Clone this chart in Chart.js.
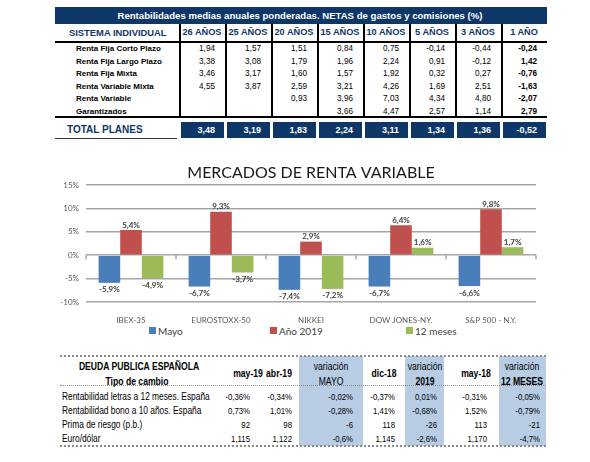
<!DOCTYPE html>
<html>
<head>
<meta charset="utf-8">
<script src="https://cdn.jsdelivr.net/npm/chart.js@4.4.0/dist/chart.umd.min.js"></script>
<style>
  body { margin: 0; width: 590px; height: 462px; background: #fff; position: relative; overflow: hidden;
         font-family: "Liberation Sans", Arial, sans-serif; }
  .t { position: absolute; white-space: nowrap; line-height: 1; }
  .box { position: absolute; }
  #chartBox { position: absolute; left: 0; top: 155px; width: 590px; height: 170px; }
</style>
</head>
<body>
<div id="chartBox"><canvas id="mercados" width="590" height="170"></canvas></div>

<script>
// ---- tabla rentabilidades ----
const planTitle = 'Rentabilidades medias anuales ponderadas. NETAS de gastos y comisiones (%)';
const planColumns = ['26 AÑOS', '25 AÑOS', '20 AÑOS', '15 AÑOS', '10 AÑOS', '5 AÑOS', '3 AÑOS', '1 AÑO'];
const planRows = ['Renta Fija Corto Plazo', 'Renta Fija Largo Plazo', 'Renta Fija Mixta',
                  'Renta Variable Mixta', 'Renta Variable', 'Garantizados'];
const rfCortoPlazo = [1.94, 1.57, 1.51, 0.84, 0.75, -0.14, -0.44, -0.24];
const rfLargoPlazo = [3.38, 3.08, 1.79, 1.96, 2.24, 0.91, -0.12, 1.42];
const rfMixta      = [3.46, 3.17, 1.60, 1.57, 1.92, 0.32, 0.27, -0.76];
const rvMixta      = [4.55, 3.87, 2.59, 3.21, 4.26, 1.69, 2.51, -1.63];
const rentaVariable = [null, null, 0.93, 3.96, 7.03, 4.34, 4.80, -2.07];
const garantizados = [null, null, null, 3.66, 4.47, 2.57, 1.14, 2.79];
const totalPlanes  = [3.48, 3.19, 1.83, 2.24, 3.11, 1.34, 1.36, -0.52];

// ---- grafico mercados ----
const mercados  = ['IBEX-35', 'EUROSTOXX-50', 'NIKKEI', 'DOW JONES-NY.', 'S&P 500 - N.Y.'];
const mayo      = [-5.9, -6.7, -7.4, -6.7, -6.6];
const anio2019  = [5.4, 9.3, 2.9, 6.4, 9.8];
const doceMeses = [-4.9, -3.7, -7.2, 1.6, 1.7];
const yTicks    = [-10, -5, 0, 5, 10, 15];

// ---- tabla deuda ----
const deudaCols = ['may-19', 'abr-19', 'variación|MAYO', 'dic-18', 'variación|2019', 'may-18', 'variación|12 MESES'];
const deudaRows = ['Rentabilidad letras a 12 meses. España', 'Rentabilidad bono a 10 años. España',
                   'Prima de riesgo (p.b.)', 'Euro/dólar'];
const letras12 = ['-0,36%', '-0,34%', '-0,02%', '-0,37%', '0,01%', '-0,31%', '-0,05%'];
const bono10   = ['0,73%', '1,01%', '-0,28%', '1,41%', '-0,68%', '1,52%', '-0,79%'];
const prima    = ['92', '98', '-6', '118', '-26', '113', '-21'];
const euroDolar = ['1,115', '1,122', '-0,6%', '1,145', '-2,6%', '1,170', '-4,7%'];

const NAVY = '#0e3768';
const fmt = v => v.toFixed(2).replace('.', ',');

function text(x, y, s, css, align, sx) {
  const d = document.createElement('div');
  d.className = 't';
  d.textContent = s;
  Object.assign(d.style, css);
  d.style.left = x + 'px';
  d.style.top = y + 'px';
  const tx = align === 'center' ? '-50%' : align === 'right' ? '-100%' : '0';
  d.style.transformOrigin = (align === 'center' ? 'center' : align === 'right' ? 'right' : 'left') + ' center';
  d.style.transform = 'translate(' + tx + ',-50%)' + (sx ? ' scaleX(' + sx + ')' : '');
  document.body.appendChild(d);
  return d;
}
function rect(x, y, w, h, css) {
  const d = document.createElement('div');
  d.className = 'box';
  Object.assign(d.style, { left: x + 'px', top: y + 'px', width: w + 'px', height: h + 'px' }, css);
  document.body.appendChild(d);
  return d;
}

// top table
const colX = 179, colW = 46, tblL = 55, tblR = 547;
rect(tblL, 7, tblR - tblL, 17, { background: NAVY });
text(300, 15.5, planTitle, { color: '#fff', fontWeight: 'bold', fontSize: '9.6px' }, 'center');
text(69, 33, 'SISTEMA INDIVIDUAL', { color: NAVY, fontWeight: 'bold', fontSize: '9.4px' });
planColumns.forEach((c, i) => {
  text(colX + colW * i + colW / 2, 33, c, { color: NAVY, fontWeight: 'bold', fontSize: '9.2px' }, 'center');
});
for (let i = 0; i < planColumns.length; i++) rect(colX + colW * i, 24, 1.5, 93, { background: '#000' });
rect(tblL, 41, tblR - tblL, 2, { background: '#000' });
rect(tblL, 116, tblR - tblL, 1.5, { background: '#000' });

const planData = [rfCortoPlazo, rfLargoPlazo, rfMixta, rvMixta, rentaVariable, garantizados];
planRows.forEach((r, j) => {
  const y = 49 + j * 12.5;
  text(76, y, r, { color: '#000', fontWeight: 'bold', fontSize: '8px' });
  planData[j].forEach((v, i) => {
    if (v === null) return;
    const last = i === planColumns.length - 1;
    text(colX + colW * (i + 1) - 10, y, fmt(v),
      { color: '#000', fontSize: '8.2px', fontWeight: last ? 'bold' : 'normal' }, 'right');
  });
});

text(67, 130, 'TOTAL PLANES', { color: NAVY, fontWeight: 'bold', fontSize: '10px' });
rect(tblL, 137.5, colX - tblL - 2, 1.2, { background: '#333' });
totalPlanes.forEach((v, i) => {
  rect(colX + colW * i + 1.5, 122, colW - 2.5, 16, { background: NAVY });
  text(colX + colW * (i + 1) - 10, 130, fmt(v), { color: '#fff', fontWeight: 'bold', fontSize: '9px' }, 'right');
});

// legend (html)
const legendItems = [['Mayo', '#4a7ebb', 149], ['Año 2019', '#c0504d', 270], ['12 meses', '#9bbb59', 406]];
legendItems.forEach(([lab, col, x]) => {
  rect(x, 327, 7, 7, { background: col });
  text(x + 9, 330.5, lab, { fontFamily: 'Lato', fontSize: '10px', color: '#404040' });
});

// bottom table (condensed Arial look)
const NX = 0.82;
const bL = 60, bR = 546;
const shaded = [[299, 363], [405, 444], [499, 546]];
shaded.forEach(([a, b]) => rect(a, 356, b - a, 90, { background: '#b8cce4' }));
rect(bL, 355, bR - bL, 0, { borderTop: '2px dotted #8a8a8a' });
rect(bL, 384.5, bR - bL, 0, { borderTop: '1.5px dotted #8a8a8a' });
rect(bL, 445, bR - bL, 0, { borderTop: '2px dotted #8a8a8a' });
const hdr = { fontSize: '10.5px', color: '#000' };
const hdrB = Object.assign({ fontWeight: 'bold' }, hdr);
text(139, 366, 'DEUDA PUBLICA ESPAÑOLA', hdrB, 'center', NX);
text(137, 381, 'Tipo de cambio', hdrB, 'center', NX);
const hdrCenters = [248, 279, 331, 384, 424.5, 476, 522];
deudaCols.forEach((c, i) => {
  const parts = c.split('|');
  if (parts.length === 1) {
    text(hdrCenters[i], 373, c, hdrB, 'center', NX);
  } else {
    text(hdrCenters[i], 366, parts[0], hdr, 'center', NX);
    text(hdrCenters[i], 381, parts[1], i === 2 ? hdr : hdrB, 'center', NX);
  }
});
const valRight = [250, 292, 353, 395, 437, 487, 540];
const deudaData = [letras12, bono10, prima, euroDolar];
deudaRows.forEach((r, j) => {
  const y = 397 + j * 14;
  text(62, y, r, { fontSize: '10.2px', color: '#000' }, 'left', NX);
  deudaData[j].forEach((v, i) => {
    text(valRight[i], y, v, { fontSize: '9.5px', color: '#000' }, 'right', NX);
  });
});

// ---- chart ----
const zeroTicks = {
  id: 'zeroTicks',
  beforeDatasetsDraw(chart) {
    const { ctx, scales: { x, y } } = chart;
    const y0 = y.getPixelForValue(0);
    const step = x.width / x.ticks.length;
    ctx.save();
    ctx.strokeStyle = '#a6a6a6';
    ctx.lineWidth = 1.5;
    for (let i = 0; i <= x.ticks.length; i++) {
      const px = x.left + i * step;
      ctx.beginPath();
      ctx.moveTo(px, y0);
      ctx.lineTo(px, y0 + 4);
      ctx.stroke();
    }
    ctx.restore();
  }
};

const valueLabels = {
  id: 'valueLabels',
  afterDatasetsDraw(chart) {
    const ctx = chart.ctx;
    ctx.save();
    ctx.font = 'bold 8px Lato';
    ctx.fillStyle = '#404040';
    ctx.textAlign = 'center';
    ctx.textBaseline = 'middle';
    chart.data.datasets.forEach((ds, i) => {
      chart.getDatasetMeta(i).data.forEach((bar, j) => {
        const v = ds.data[j];
        ctx.fillText(v.toFixed(1).replace('.', ',') + '%', bar.x, v >= 0 ? bar.y - 5 : bar.y + 7);
      });
    });
    ctx.restore();
  }
};

new Chart(document.getElementById('mercados').getContext('2d'), {
  type: 'bar',
  data: {
    labels: mercados,
    datasets: [
      { label: 'Mayo', data: mayo, backgroundColor: '#4a7ebb' },
      { label: 'Año 2019', data: anio2019, backgroundColor: '#c0504d' },
      { label: '12 meses', data: doceMeses, backgroundColor: '#9bbb59' }
    ]
  },
  options: {
    responsive: false,
    animation: false,
    devicePixelRatio: 1,
    datasets: { bar: { barPercentage: 1, categoryPercentage: 0.72 } },
    layout: { padding: { left: 0, right: 54, top: 0, bottom: 0 } },
    plugins: {
      legend: { display: false },
      tooltip: { enabled: false },
      title: {
        display: true,
        fullSize: false,
        text: 'MERCADOS DE RENTA VARIABLE',
        color: '#1a1a1a',
        font: { family: 'Lato', size: 16, weight: 'normal' },
        padding: { top: 8.4, bottom: 2.4 }
      }
    },
    scales: {
      x: {
        grid: { display: false },
        border: { display: false },
        ticks: { color: '#595959', font: { family: 'Lato', size: 8 }, padding: 6, maxRotation: 0, autoSkip: false },
        afterFit(s) { s.height = 23; }
      },
      y: {
        min: yTicks[0],
        max: yTicks[yTicks.length - 1],
        afterBuildTicks(s) { s.ticks = yTicks.map(v => ({ value: v })); },
        ticks: { callback: v => v + '%', color: '#595959', font: { family: 'Lato', size: 8 }, padding: 7 },
        grid: { color: '#a6a6a6', lineWidth: 1.5, drawTicks: false },
        border: { display: false },
        afterFit(s) { s.width = 86; }
      }
    }
  },
  plugins: [zeroTicks, valueLabels]
});
</script>
</body>
</html>
